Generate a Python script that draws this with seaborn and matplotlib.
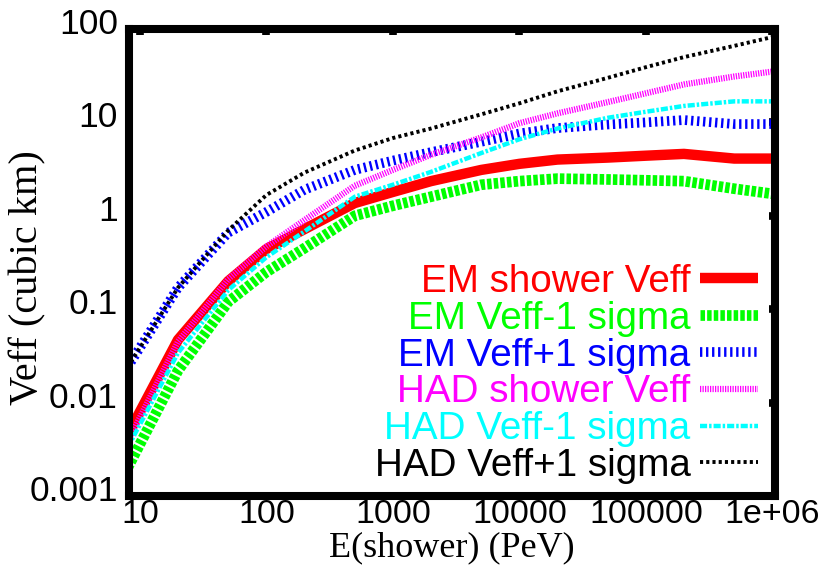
import matplotlib
matplotlib.use("Agg")
import matplotlib.pyplot as plt
import matplotlib.transforms as mtransforms
import pandas as pd
import seaborn as sns

# Shower energy (PeV) and effective volume (cubic km) per curve
energy = [8, 20, 50, 100, 200, 500, 1e3, 2e3, 5e3, 1e4, 2e4, 5e4, 1e5, 2e5, 5e5, 1e6]
em_veff = [0.0045, 0.047, 0.2, 0.44, 0.72, 1.37, 1.8, 2.35, 3.1, 3.6, 4.0, 4.2, 4.4, 4.6, 4.1, 4.1]
em_minus = [0.002, 0.022, 0.12, 0.25, 0.45, 1.0, 1.28, 1.6, 2.15, 2.35, 2.5, 2.45, 2.4, 2.35, 1.95, 1.72]
em_plus = [0.024, 0.17, 0.66, 1.1, 1.9, 3.1, 3.9, 4.8, 6.2, 7.6, 8.7, 9.5, 10.0, 10.6, 9.6, 9.6]
had_veff = [0.0038, 0.045, 0.21, 0.47, 0.9, 2.1, 3.1, 4.5, 6.9, 9.8, 12.5, 16.5, 20.5, 25.5, 31, 35]
had_minus = [0.0033, 0.034, 0.16, 0.36, 0.68, 1.6, 2.15, 2.95, 4.7, 6.6, 8.6, 11.2, 13, 15, 16.8, 16.8]
had_plus = [0.024, 0.17, 0.7, 1.67, 2.9, 5.0, 6.8, 8.6, 12.2, 16, 21.5, 30, 39, 50, 66, 82]

series_names = ["EM shower Veff", "EM Veff-1 sigma", "EM Veff+1 sigma",
                "HAD shower Veff", "HAD Veff-1 sigma", "HAD Veff+1 sigma"]
series_values = [em_veff, em_minus, em_plus, had_veff, had_minus, had_plus]

x_ticks = [10, 100, 1000, 10000, 100000, 1000000]
x_tick_labels = ["10", "100", "1000", "10000", "100000", "1e+06"]
y_ticks = [0.001, 0.01, 0.1, 1, 10, 100]
y_tick_labels = ["0.001", "0.01", "0.1", "1", "10", "100"]

# gnuplot-like line styles: colour, width (pt), dash pattern (in line widths)
styles = {
    "EM shower Veff": ("#ff0000", 7.5, None),
    "EM Veff-1 sigma": ("#00ff00", 7.7, (0.42, 0.2)),
    "EM Veff+1 sigma": ("#0000ff", 7.0, (0.24, 0.38)),
    "HAD shower Veff": ("#ff00ff", 4.5, (0.2, 0.2)),
    "HAD Veff-1 sigma": ("#00ffff", 3.2, (1.6, 0.45, 0.55, 0.45)),
    "HAD Veff+1 sigma": ("#000000", 2.8, (0.8, 0.8)),
}

frames = []
for name, vals in zip(series_names, series_values):
    frames.append(pd.DataFrame({"E": energy, "Veff": vals, "series": name}))
df = pd.concat(frames, ignore_index=True)

sns.set_style("white")
plt.rcParams["font.family"] = ["Liberation Sans", "DejaVu Sans"]
plt.rcParams["text.color"] = "black"
plt.rcParams["axes.labelcolor"] = "black"
plt.rcParams["xtick.color"] = "black"
plt.rcParams["ytick.color"] = "black"

fig = plt.figure(figsize=(8.32, 5.65), dpi=100)
ax = fig.add_axes([129 / 832, (565 - 496) / 565, (775 - 129) / 832, (496 - 29) / 565])

for name in series_names:
    color, lw, dash = styles[name]
    sub = df[df["series"] == name]
    sns.lineplot(data=sub, x="E", y="Veff", ax=ax, color=color, linewidth=lw,
                 label=name, estimator=None, sort=False)
    line = ax.lines[-1]
    if dash is not None:
        line.set_dashes(dash)
    line.set_solid_capstyle("butt")
    line.set_dash_capstyle("butt")

ax.set_xscale("log")
ax.set_yscale("log")
ax.set_xlim(8.2, 1.05e6)
ax.set_ylim(0.001, 100)
ax.set_xticks(x_ticks)
ax.set_xticklabels(x_tick_labels)
ax.set_yticks(y_ticks)
ax.set_yticklabels(y_tick_labels)
ax.minorticks_off()

ax.tick_params(axis="both", which="major", direction="in", top=True, right=True,
               length=4.5, width=5.5, color="black", labelcolor="black")
ax.tick_params(axis="x", pad=2.0, labelsize=24.5)
ax.tick_params(axis="y", pad=8, labelsize=25.5)

# Raise the y tick labels slightly above their ticks
offset = mtransforms.ScaledTranslation(0, 8 / 100, fig.dpi_scale_trans)
for tick in ax.yaxis.get_major_ticks():
    tick.label1.set_transform(tick.label1.get_transform() + offset)

for spine in ax.spines.values():
    spine.set_visible(True)
    spine.set_linewidth(5.8)
    spine.set_color("black")

ax.set_xlabel("E(shower) (PeV)", family="Liberation Serif", fontsize=26,
              va="center", color="black")
ax.xaxis.set_label_coords(0.5, (496 - 548) / 467)
ax.set_ylabel("Veff (cubic km)", family="Liberation Serif", fontsize=29,
              va="center", color="black")
ax.yaxis.set_label_coords((28 - 129) / 646, (496 - 278) / 467)

leg = ax.legend(loc="lower right", bbox_to_anchor=(0.974, 0.026), borderaxespad=0,
                borderpad=0, frameon=False, markerfirst=False,
                prop={"family": "Liberation Sans", "size": 27.8},
                handlelength=1.5, handletextpad=0.25, labelspacing=0.02,
                labelcolor="linecolor")

fig.savefig("out.png", dpi=100)
